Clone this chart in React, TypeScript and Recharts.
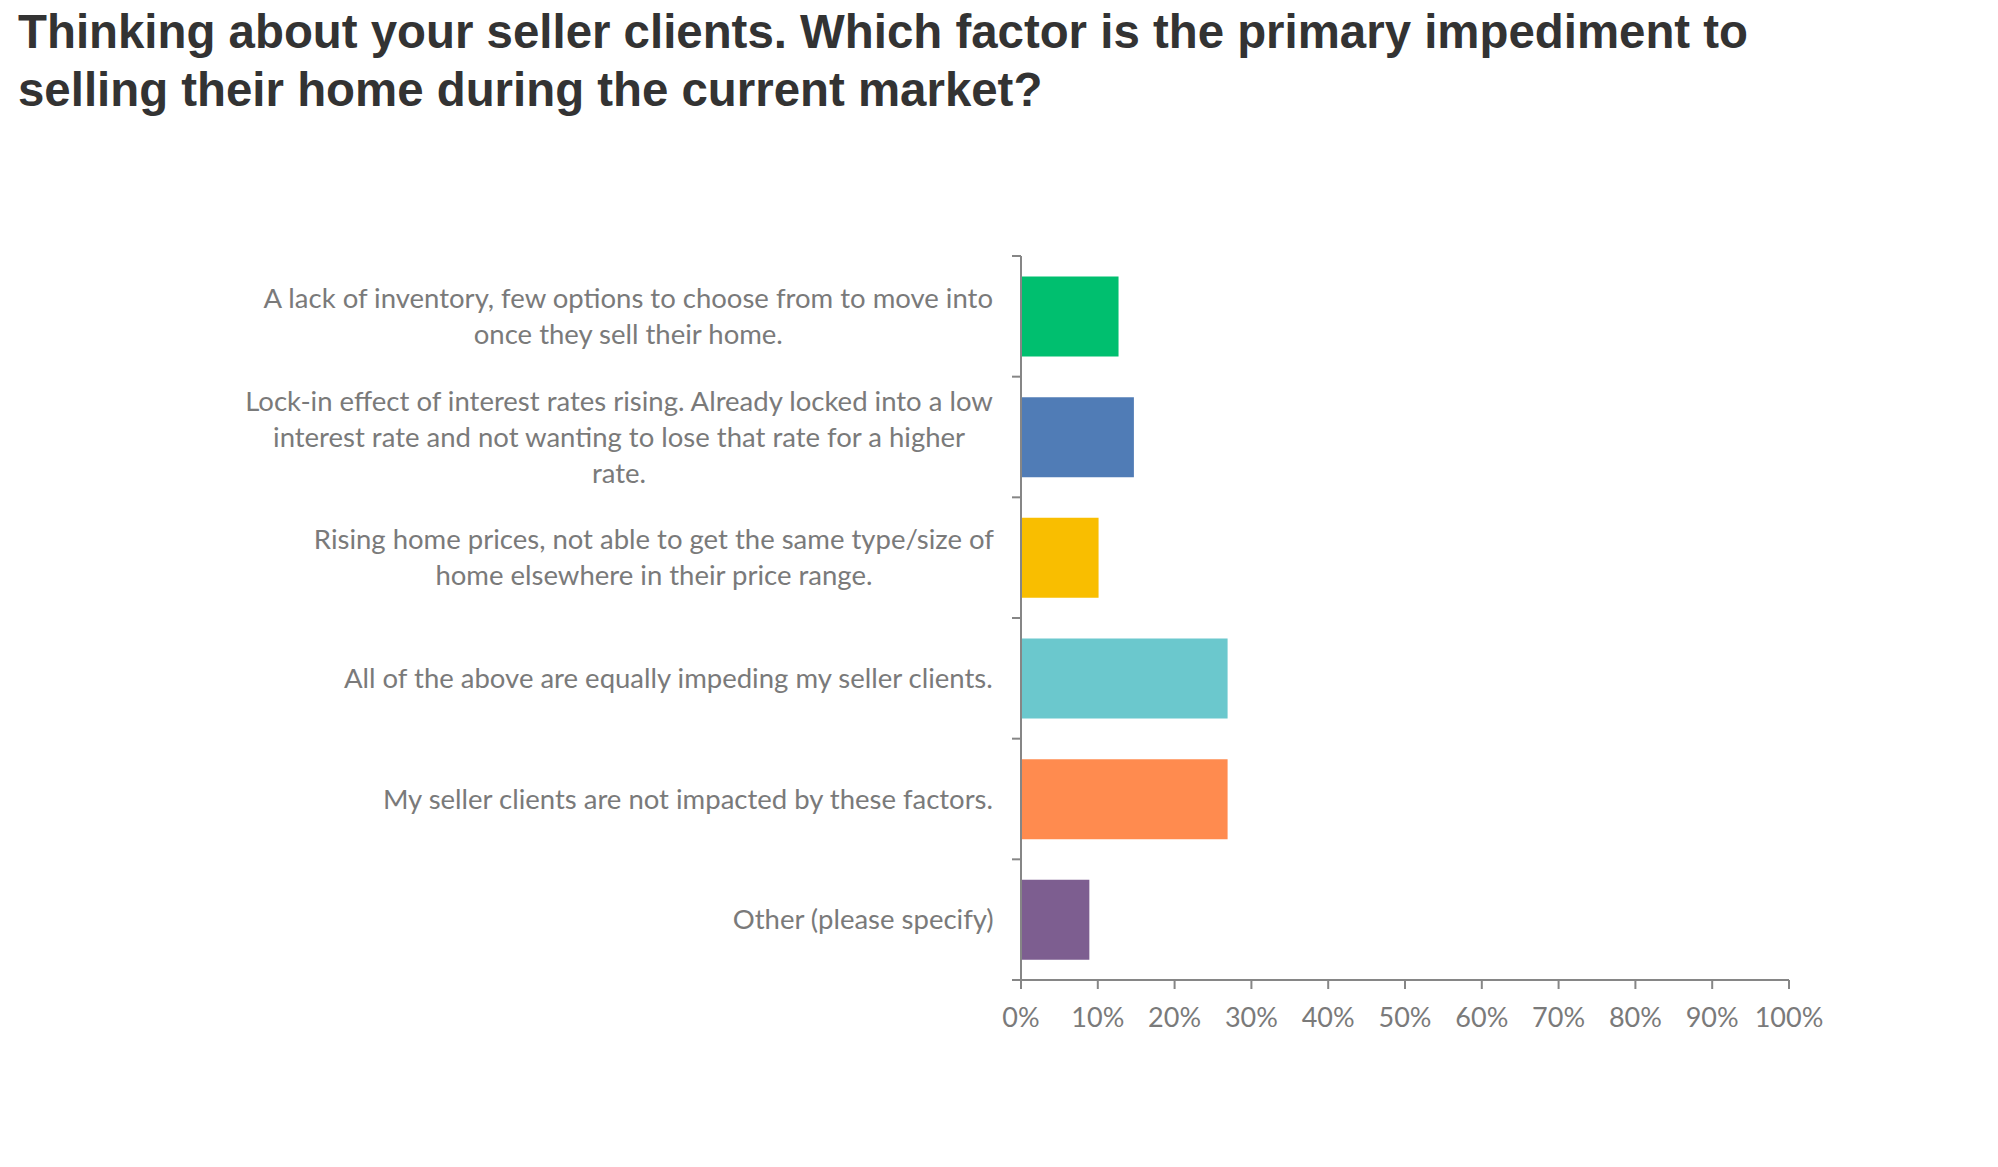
import React from "react"
import { BarChart, Bar, XAxis, YAxis, Cell } from "recharts"

const categories = [
  "A lack of inventory, few options to choose from to move into\nonce they sell their home.",
  "Lock-in effect of interest rates rising. Already locked into a low\ninterest rate and not wanting to lose that rate for a higher\nrate.",
  "Rising home prices, not able to get the same type/size of\nhome elsewhere in their price range.",
  "All of the above are equally impeding my seller clients.",
  "My seller clients are not impacted by these factors.",
  "Other (please specify)",
]

const shares = [12.7, 14.7, 10.1, 26.9, 26.9, 8.9]

const barColors = ["#00BF6F", "#507CB6", "#F9BE00", "#6BC8CD", "#FF8B4F", "#7D5E90"]

const xTicks = [0, 10, 20, 30, 40, 50, 60, 70, 80, 90, 100]

const data = categories.map((category, i) => ({ category, share: shares[i] }))

const W = 1982
const H = 1100
const margin = { top: 248, right: 201, bottom: 68, left: 13 }
const yAxisWidth = 1000
const plotLeft = margin.left + yAxisWidth
const plotHeight = H - margin.top - margin.bottom - 60
const band = plotHeight / categories.length

const axisColor = "#868686"
const textColor = "#7a7a7a"
const labelSize = 27.5
const labelFont = "Lato"
const lineHeight = 36

let ctx: CanvasRenderingContext2D | null = null
function textWidth(s: string) {
  if (!ctx) ctx = document.createElement("canvas").getContext("2d")
  ctx!.font = `${labelSize}px ${labelFont}`
  return ctx!.measureText(s).width
}

function CategoryTick(props: any) {
  const { y, payload, index } = props
  const lines = String(payload.value).split("\n")
  const maxW = Math.max(...lines.map(textWidth))
  const cx = plotLeft - 27 - maxW / 2
  const y0 = y - ((lines.length - 1) * lineHeight) / 2
  return (
    <g>
      {lines.map((l, i) => (
        <text
          key={i}
          x={cx}
          y={y0 + i * lineHeight}
          dy="0.35em"
          textAnchor="middle"
          fill={textColor}
          fontSize={labelSize}
          fontFamily={labelFont}
        >
          {l}
        </text>
      ))}
      <line x1={plotLeft - 9} x2={plotLeft} y1={y - band / 2} y2={y - band / 2} stroke={axisColor} strokeWidth={2} />
      {index === categories.length - 1 && (
        <line x1={plotLeft - 9} x2={plotLeft} y1={y + band / 2} y2={y + band / 2} stroke={axisColor} strokeWidth={2} />
      )}
    </g>
  )
}

export default function App() {
  return (
    <div style={{ position: "relative", width: W, height: 1151, fontFamily: labelFont }}>
      <BarChart
        width={W}
        height={H}
        data={data}
        layout="vertical"
        margin={margin}
        barCategoryGap="17%"
      >
        <XAxis
          type="number"
          domain={[0, 100]}
          ticks={xTicks}
          tickFormatter={(v) => `${v}%`}
          height={60}
          tickSize={9}
          tickMargin={19}
          axisLine={{ stroke: axisColor, strokeWidth: 2 }}
          tickLine={{ stroke: axisColor, strokeWidth: 2 }}
          tick={{ fill: textColor, fontSize: 27, fontFamily: labelFont }}
        />
        <YAxis
          type="category"
          dataKey="category"
          width={yAxisWidth}
          interval={0}
          tickLine={false}
          axisLine={{ stroke: axisColor, strokeWidth: 2 }}
          tick={(p: any) => <CategoryTick {...p} />}
        />
        <Bar dataKey="share" isAnimationActive={false}>
          {data.map((d, i) => (
            <Cell key={d.category} fill={barColors[i]} />
          ))}
        </Bar>
      </BarChart>
      <div
        style={{
          position: "absolute",
          left: 10,
          top: -5,
          width: 1960,
          fontFamily: "'Liberation Sans', Arial, sans-serif",
          fontWeight: 700,
          fontSize: 47.4,
          lineHeight: "58px",
          color: "#333333",
        }}
      >
        Thinking about your seller clients. Which factor is the primary impediment to
        <br />
        selling their home during the current market?
      </div>
    </div>
  )
}
